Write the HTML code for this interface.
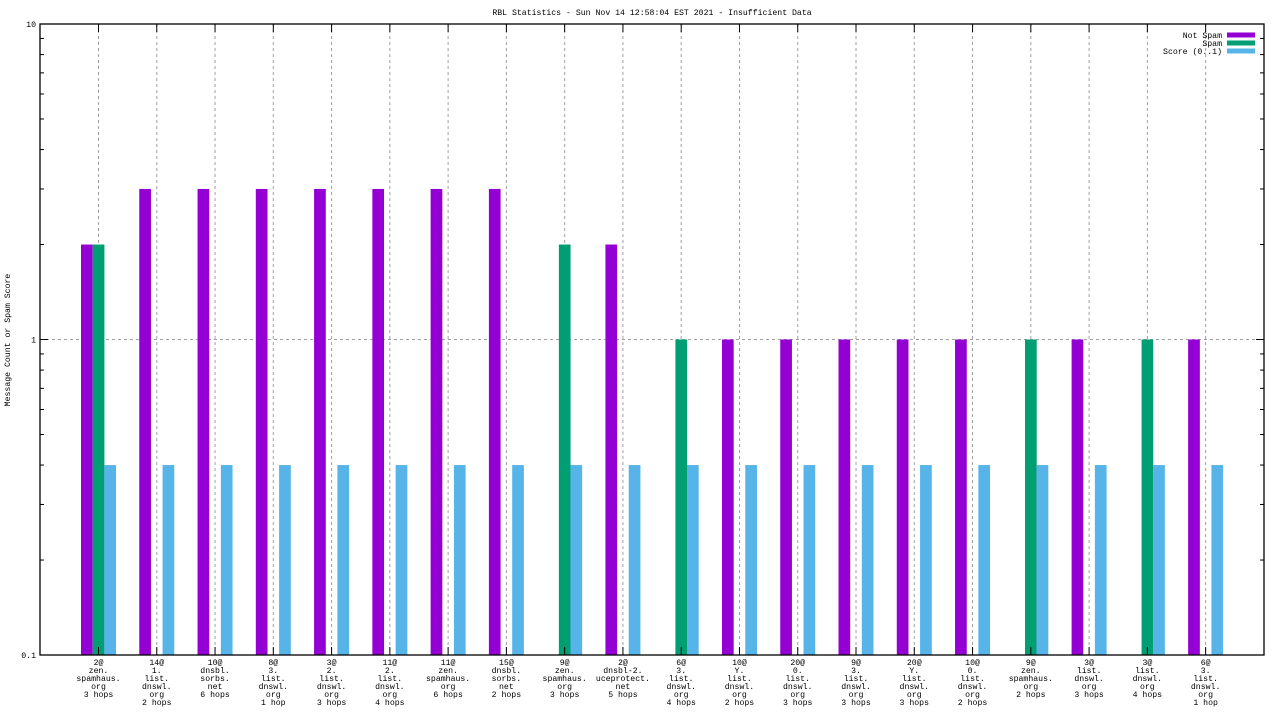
<!DOCTYPE html>
<html><head><meta charset="utf-8"><style>
html,body{margin:0;padding:0;background:#fff;}
svg text{font-family:"Liberation Mono",monospace;font-size:8.2px;fill:#000;}
</style></head><body>
<svg id="chart" width="1280" height="720" xmlns="http://www.w3.org/2000/svg">
<text x="652" y="15" text-anchor="middle">RBL Statistics - Sun Nov 14 12:58:04 EST 2021 - Insufficient Data</text>
<text transform="translate(10,340) rotate(-90)" text-anchor="middle">Message Count or Spam Score</text>
<g id="grid"></g>
<g id="bars"></g>
<g id="axes"></g>
<g id="legend"></g>
</svg>
<script>
const categories = [
 ["2@","zen.","spamhaus.","org","3 hops"],
 ["14@","1.","list.","dnswl.","org","2 hops"],
 ["10@","dnsbl.","sorbs.","net","6 hops"],
 ["8@","3.","list.","dnswl.","org","1 hop"],
 ["3@","2.","list.","dnswl.","org","3 hops"],
 ["11@","2.","list.","dnswl.","org","4 hops"],
 ["11@","zen.","spamhaus.","org","6 hops"],
 ["15@","dnsbl.","sorbs.","net","2 hops"],
 ["9@","zen.","spamhaus.","org","3 hops"],
 ["2@","dnsbl-2.","uceprotect.","net","5 hops"],
 ["6@","3.","list.","dnswl.","org","4 hops"],
 ["10@","Y.","list.","dnswl.","org","2 hops"],
 ["20@","0.","list.","dnswl.","org","3 hops"],
 ["9@","3.","list.","dnswl.","org","3 hops"],
 ["20@","Y.","list.","dnswl.","org","3 hops"],
 ["10@","0.","list.","dnswl.","org","2 hops"],
 ["9@","zen.","spamhaus.","org","2 hops"],
 ["3@","list.","dnswl.","org","3 hops"],
 ["3@","list.","dnswl.","org","4 hops"],
 ["6@","3.","list.","dnswl.","org","1 hop"]
];
const notSpam = [2,3,3,3,3,3,3,3,0,2,0,1,1,1,1,1,0,1,0,1];
const spam = [2,0,0,0,0,0,0,0,2,0,1,0,0,0,0,0,1,0,1,0];
const score = [0.4,0.4,0.4,0.4,0.4,0.4,0.4,0.4,0.4,0.4,0.4,0.4,0.4,0.4,0.4,0.4,0.4,0.4,0.4,0.4];
const yTicks = [0.1,1,10];
const yTickLabels = ["0.1","1","10"];

const NS="http://www.w3.org/2000/svg";
const L=40,R=1264,T=24,B=655;
const X0=98.5,DX=58.27,BW=11.7;
function xs(i){return X0+i*DX;}
function ys(v){return B-(Math.log10(v)+1)/2*(B-T);}
function mk(tag,attrs,parent){const e=document.createElementNS(NS,tag);for(const k in attrs)e.setAttribute(k,attrs[k]);parent.appendChild(e);return e;}
const grid=document.getElementById('grid'),bars=document.getElementById('bars'),axes=document.getElementById('axes'),legend=document.getElementById('legend');

// grid
categories.forEach((c,i)=>{
  const g=mk('line',{x1:xs(i),x2:xs(i),y1:T,y2:B,stroke:'#a0a0a0','stroke-dasharray':'3,3','stroke-width':1},grid);
  
  
});
{const g=mk('line',{x1:L,x2:R,y1:ys(1),y2:ys(1),stroke:'#a0a0a0','stroke-dasharray':'3,3','stroke-width':1},grid);

}

// bars
const series=[[notSpam,'#9400d3',-17.5,'bar-not-spam'],[spam,'#009e73',-5.8,'bar-spam'],[score,'#56b4e9',5.8,'bar-score']];
series.forEach(([arr,col,off,name])=>{
  arr.forEach((v,i)=>{
    if(v<=0)return;
    const y=ys(v);
    const r=mk('rect',{x:xs(i)+off,y:y,width:BW,height:B-y,fill:col},bars);
    
    
  });
});

// axes frame
{const f=mk('rect',{x:L,y:T,width:R-L,height:B-T,fill:'none',stroke:'#000','stroke-width':1.3},axes);

}
// y ticks
yTicks.forEach((v,k)=>{
  const y=ys(v);
  mk('line',{x1:L,x2:L+8,y1:y,y2:y,stroke:'#000'},axes);
  mk('line',{x1:R,x2:R-8,y1:y,y2:y,stroke:'#000'},axes);
  const t=mk('text',{x:L-4,y:y+3,'text-anchor':'end'},axes);
  t.textContent=yTickLabels[k];
  
  
  if(k<yTicks.length-1){
    for(let m=2;m<=9;m++){const ym=ys(v*m);
      mk('line',{x1:L,x2:L+4,y1:ym,y2:ym,stroke:'#000'},axes);
      mk('line',{x1:R,x2:R-4,y1:ym,y2:ym,stroke:'#000'},axes);}
  }
});
// x ticks & labels
categories.forEach((c,i)=>{
  const x=xs(i);
  mk('line',{x1:x,x2:x,y1:B,y2:B-8,stroke:'#000'},axes);
  mk('line',{x1:x,x2:x,y1:T,y2:T+8,stroke:'#000'},axes);
  const t=mk('text',{x:x,y:665,'text-anchor':'middle'},axes);
  
  
  c.forEach((line,j)=>{const s=mk('tspan',{x:x,y:665+j*8},t);s.textContent=line;});
});
// legend
const legendItems=[['Not Spam','#9400d3'],['Spam','#009e73'],['Score (0..1)','#56b4e9']];
legendItems.forEach(([lab,col],k)=>{
  const y=35+k*8;
  const t=mk('text',{x:1222,y:y+3,'text-anchor':'end'},legend);
  t.textContent=lab;
  
  
  const r=mk('rect',{x:1227,y:y-2.5,width:28,height:5,fill:col},legend);
  
  
});
</script>
</body></html>
